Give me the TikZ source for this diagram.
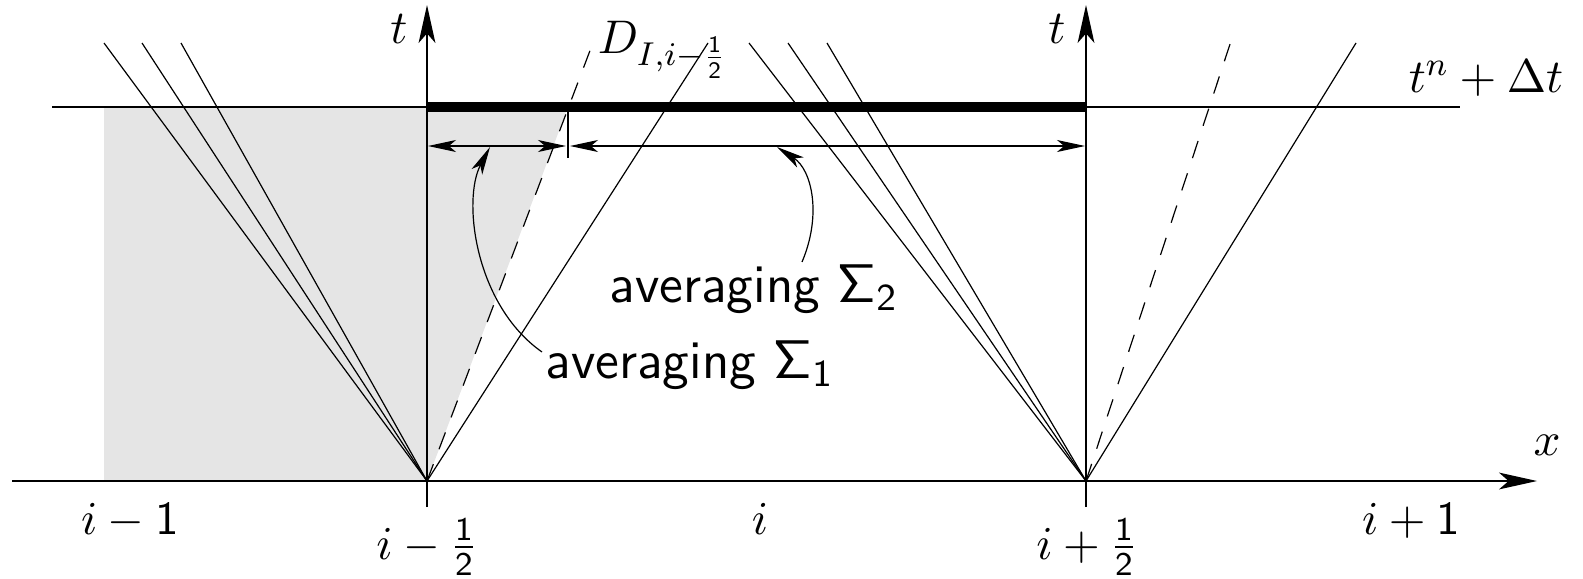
\RequirePackage{fix-cm}
\documentclass[tikz,border=0pt]{standalone}
\usetikzlibrary{arrows.meta}
\begin{document}
\begin{tikzpicture}[x=0.25pt,y=-0.25pt,
  ln/.style={line width=0.3pt},
  dsh/.style={line width=0.3pt,dash pattern=on 4.5pt off 4pt},
  axisarrow/.style={line width=0.35pt,-{Stealth[length=9.5pt,width=4.2pt,inset=2.4pt]}},
  dimarrow/.style={line width=0.3pt,{Stealth[length=7pt,width=3pt,inset=1.8pt]}-{Stealth[length=7pt,width=3pt,inset=1.8pt]}},
  curvearrow/.style={line width=0.3pt,-{Stealth[length=7pt,width=3pt,inset=1.8pt]}},
  mlabel/.style={inner sep=0pt,font=\fontsize{11.8}{14}\selectfont},
  slabel/.style={inner sep=0pt,anchor=base west,font=\fontsize{13.6}{16}\selectfont\sffamily}]
\useasboundingbox (0,0) rectangle (1583,578);
% key points
\coordinate (L0) at (427,481);
\coordinate (R0) at (1086,481);
\coordinate (tick) at (568,107);
% shaded region
\fill[black!10] (104,107) -- (tick) -- (L0) -- (104,481) -- cycle;
% time level line and thick segment
\draw[ln] (52,107) -- (1460,107);
\draw[line width=2.5pt] (427,107) -- (1086,107);
% axes
\draw[axisarrow] (12,481) -- (1537,481);
\draw[axisarrow] (427,507) -- (427,5);
\draw[axisarrow] (1086,507) -- (1086,5);
% left fan
\draw[ln] (L0) -- (104,43);
\draw[ln] (L0) -- (142,43);
\draw[ln] (L0) -- (181,43);
\draw[ln] (L0) -- (708,43);
\draw[dsh] (L0) -- (594,40);
% right fan
\draw[ln] (R0) -- (749,43);
\draw[ln] (R0) -- (788,43);
\draw[ln] (R0) -- (827,43);
\draw[ln] (R0) -- (1356,43);
\draw[dsh] (R0) -- (1234,32);
% tick and averaging intervals
\draw[ln] (tick) -- (568,158);
\draw[dimarrow] (428,146) -- (566,146);
\draw[dimarrow] (570,146) -- (1085,146);
% labels
\node[mlabel,anchor=base] (tl) at (399,43) {$t$};
\node[mlabel,anchor=base] (tr) at (1057,43) {$t$};
\node[mlabel,anchor=base west] (D) at (597,53) {$D_{I,i-\frac{\mathsf{1}}{\mathsf{2}}}$};
\node[mlabel,anchor=base west] (tn) at (1408,93) {$t^n+\Delta t$};
\node[mlabel,anchor=base] (xl) at (1547,455) {$x$};
\node[mlabel,anchor=base] (im1) at (130,534) {$i-\mathsf{1}$};
\node[mlabel,anchor=base] (imh) at (427,559) {$i-\frac{\mathsf{1}}{\mathsf{2}}$};
\node[mlabel,anchor=base] (ii) at (760,534) {$i$};
\node[mlabel,anchor=base] (iph) at (1087,559) {$i+\frac{\mathsf{1}}{\mathsf{2}}$};
\node[mlabel,anchor=base] (ip1) at (1411,534) {$i+\mathsf{1}$};
\node[slabel] (s2) at (609,302) {averaging $\mathsf{\Sigma}_{\mathsf{2}}$};
\node[slabel] (s1) at (545,378) {averaging $\mathsf{\Sigma}_{\mathsf{1}}$};
% curved pointers
\coordinate (s1start) at (542,352);
\coordinate (s1end) at (490,147);
\coordinate (s2start) at (802,262);
\coordinate (s2end) at (777,147);
\draw[curvearrow] (s1start) .. controls (475,305) and (462,200) .. (s1end);
\draw[curvearrow] (s2start) .. controls (822,215) and (812,170) .. (s2end);
\end{tikzpicture}
\end{document}
